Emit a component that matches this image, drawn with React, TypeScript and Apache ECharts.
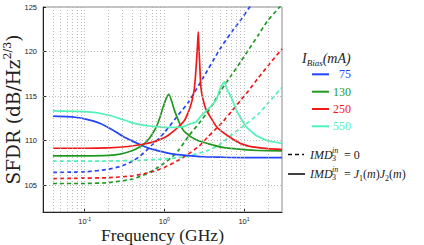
import React, { useEffect, useRef } from "react";
import * as echarts from "echarts";

// ---------- data ----------
const xMin = 0.03;
const xMax = 30;
const yMin = 102;
const yMax = 125;
const yTickValues = [105, 110, 115, 120, 125];
const xGridValues = [
  0.04, 0.05, 0.06, 0.07, 0.08, 0.09, 0.1, 0.2, 0.3, 0.4, 0.5, 0.6, 0.7, 0.8, 0.9,
  1, 2, 3, 4, 5, 6, 7, 8, 9, 10, 20,
];
const biasLabels = ["75", "130", "250", "550"];
const biasColors = ["#2244ff", "#1f9a1f", "#f21818", "#4ef3b6"];

// solid: IMD3in = J1(m)J2(m)
const f75Solid = [0.04, 0.06, 0.08, 0.1, 0.13, 0.16, 0.2, 0.25, 0.3, 0.4, 0.5, 0.7, 0.9, 1.2, 1.6, 2.2, 3, 5, 10, 30];
const v75Solid = [112.75, 112.7, 112.6, 112.45, 112.2, 111.9, 111.45, 110.95, 110.5, 109.95, 109.55, 109.05, 108.8, 108.55, 108.4, 108.3, 108.2, 108.15, 108.1, 108.1];

const f130Solid = [0.04, 0.1, 0.2, 0.28, 0.4, 0.5, 0.6, 0.7, 0.8, 0.88, 0.96, 1.05, 1.14, 1.24, 1.34, 1.45, 1.6, 1.8, 2.5, 3.6, 5.4, 10, 15, 30];
const v130Solid = [108.3, 108.3, 108.35, 108.5, 108.9, 109.35, 109.9, 110.7, 111.6, 112.6, 113.7, 114.7, 115.2, 114.4, 113.4, 112.6, 111.7, 111.0, 110.1, 109.65, 109.25, 109.0, 108.9, 108.85];

const f250Solid = [0.04, 0.1, 0.2, 0.35, 0.54, 0.75, 1.05, 1.4, 1.77, 2.0, 2.2, 2.35, 2.45, 2.55, 2.62, 2.67, 2.72, 2.8, 2.88, 3.0, 3.3, 3.7, 4.5, 5.5, 6.9, 9, 11.4, 20, 30];
const v250Solid = [109.15, 109.15, 109.2, 109.35, 109.6, 109.9, 110.45, 111.3, 112.2, 113.2, 114.3, 115.5, 117.0, 119.3, 121.0, 122.2, 120.5, 118.0, 116.0, 115.0, 113.6, 112.8, 111.6, 110.9, 110.3, 109.7, 109.4, 109.1, 109.0];

const f550Solid = [0.04, 0.08, 0.12, 0.16, 0.2, 0.25, 0.32, 0.4, 0.5, 0.65, 0.85, 1.05, 1.4, 1.77, 2.05, 2.5, 2.9, 3.5, 4.0, 4.5, 5.1, 5.65, 6.1, 6.9, 7.9, 9, 10.6, 12.5, 14.8, 20, 30];
const v550Solid = [113.35, 113.3, 113.2, 113.05, 112.85, 112.6, 112.3, 112.0, 111.8, 111.65, 111.55, 111.5, 111.5, 111.6, 111.85, 112.1, 112.8, 113.5, 114.0, 114.6, 116.0, 116.6, 115.8, 114.9, 113.6, 112.6, 111.6, 111.0, 110.5, 110.0, 109.7];

// dashed: IMD3in = 0
const f75Dashed = [0.04, 0.1, 0.2, 0.3, 0.4, 0.5, 0.7, 1.0, 1.5, 2.0, 3.0, 5.0, 7.0, 9.0, 12, 14];
const v75Dashed = [106.45, 106.5, 106.8, 107.2, 107.7, 108.3, 109.5, 110.9, 112.9, 114.3, 116.9, 120.3, 122.2, 123.5, 125.1, 126];

const f130Dashed = [0.04, 0.1, 0.2, 0.4, 0.6, 0.8, 1.0, 1.26, 1.5, 2.05, 2.7, 3.3, 4.0, 5.1, 6.9, 9, 11.4, 15, 19.6, 28, 32];
const v130Dashed = [105.2, 105.2, 105.3, 105.7, 106.3, 106.9, 107.5, 108.2, 108.9, 110.6, 111.9, 112.9, 114.0, 115.6, 117.3, 118.8, 120.2, 121.8, 123.4, 125.0, 125.6];

const f250Dashed = [0.04, 0.1, 0.2, 0.4, 0.7, 1.0, 1.5, 2.0, 2.74, 3.5, 4.3, 5.4, 7, 9, 11.4, 15, 20, 30];
const v250Dashed = [105.75, 105.8, 105.85, 106.05, 106.5, 107.0, 107.8, 108.5, 109.4, 110.4, 111.2, 112.1, 113.3, 114.5, 115.6, 117.0, 118.4, 120.3];

const f550Dashed = [0.04, 0.2, 0.5, 1, 1.5, 2, 2.74, 3.66, 5, 7.1, 10, 14.8, 20, 30];
const v550Dashed = [107.7, 107.72, 107.8, 107.95, 108.1, 108.3, 108.6, 108.95, 109.6, 110.7, 111.7, 112.9, 114.2, 116.0];

const solidSets = [
  [f75Solid, v75Solid],
  [f130Solid, v130Solid],
  [f250Solid, v250Solid],
  [f550Solid, v550Solid],
];
const dashedSets = [
  [f75Dashed, v75Dashed],
  [f130Dashed, v130Dashed],
  [f250Dashed, v250Dashed],
  [f550Dashed, v550Dashed],
];

const SERIF = "'Liberation Serif', 'Times New Roman', serif";
const WIDE_SERIF = "'DejaVu Serif', serif";
const SANS = "'Liberation Sans', Arial, sans-serif";

function pairs(f: number[], v: number[]) {
  return f.map((x, i) => [x, v[i]]);
}

export default function App() {
  const ref = useRef<HTMLDivElement>(null);

  useEffect(() => {
    if (!ref.current) return;
    const chart = echarts.init(ref.current, null, { renderer: "svg" });

    const gridLineStyle = { type: [1, 2], color: "#a8a8a8", width: 0.8 };

    const series: any[] = [
      {
        type: "line",
        name: "grid",
        data: [[xMin, yMin]],
        symbol: "none",
        lineStyle: { opacity: 0 },
        silent: true,
        z: 1,
        markLine: {
          silent: true,
          symbol: "none",
          label: { show: false },
          lineStyle: gridLineStyle,
          animation: false,
          data: [
            ...xGridValues.map((v) => ({ xAxis: v })),
            ...yTickValues.filter((v) => v < yMax).map((v) => ({ yAxis: v })),
          ],
        },
      },
    ];

    dashedSets.forEach(([f, v], i) => {
      series.push({
        type: "line",
        name: biasLabels[i] + " dashed",
        data: pairs(f, v),
        symbol: "none",
        smooth: 0.2,
        clip: true,
        silent: true,
        z: 3,
        lineStyle: { color: biasColors[i], width: 1.7, type: [4, 3] },
      });
    });
    solidSets.forEach(([f, v], i) => {
      series.push({
        type: "line",
        name: biasLabels[i],
        data: pairs(f, v),
        symbol: "none",
        smooth: 0.2,
        clip: true,
        silent: true,
        z: 4,
        lineStyle: { color: biasColors[i], width: 1.7 },
      });
    });

    const legendRows = [74.3, 91.7, 109, 126.3];
    const graphic: any[] = [
      {
        type: "text",
        x: 302,
        y: 58,
        style: {
          text: "{i|I}{b|Bias}{i|(mA)}",
          verticalAlign: "middle",
          rich: {
            i: { fontFamily: SERIF, fontStyle: "italic", fontSize: 14, lineHeight: 18, fill: "#222", verticalAlign: "middle" },
            b: { fontFamily: SERIF, fontStyle: "italic", fontSize: 9, lineHeight: 10, fill: "#222", verticalAlign: "bottom" },
          },
        },
      },
    ];
    legendRows.forEach((y, i) => {
      graphic.push({
        type: "line",
        shape: { x1: 312, y1: y, x2: 329, y2: y },
        style: { stroke: biasColors[i], lineWidth: 2 },
      });
      graphic.push({
        type: "text",
        x: 351,
        y: y,
        style: {
          text: biasLabels[i],
          align: "right",
          verticalAlign: "middle",
          fontFamily: SERIF,
          fontSize: 12,
          fill: biasColors[i],
        },
      });
    });
    // line-style legend
    graphic.push({
      type: "line",
      shape: { x1: 288, y1: 154.5, x2: 304, y2: 154.5 },
      style: { stroke: "#111", lineWidth: 1.6, lineDash: [4, 3] },
    });
    graphic.push({
      type: "line",
      shape: { x1: 288, y1: 174, x2: 305, y2: 174 },
      style: { stroke: "#111", lineWidth: 1.6 },
    });
    const imdRows: [number, string][] = [
      [154.5, "{e|= 0}"],
      [174, "{e|= }{i|J}{s|1}{e|(}{i|m}{e|)}{i|J}{s|2}{e|(}{i|m}{e|)}"],
    ];
    imdRows.forEach(([y, rest]) => {
      graphic.push({
        type: "text",
        x: 310,
        y: y,
        style: {
          text: "IMD",
          verticalAlign: "middle",
          fontFamily: SERIF,
          fontStyle: "italic",
          fontSize: 12,
          fill: "#222",
        },
      });
      graphic.push({
        type: "text",
        x: 332,
        y: y - 4.5,
        style: { text: "in", verticalAlign: "middle", fontFamily: SERIF, fontStyle: "italic", fontSize: 8, fill: "#222" },
      });
      graphic.push({
        type: "text",
        x: 332,
        y: y + 3.5,
        style: { text: "3", verticalAlign: "middle", fontFamily: SERIF, fontSize: 8, fill: "#222" },
      });
      graphic.push({
        type: "text",
        x: 344,
        y: y,
        style: {
          text: rest,
          verticalAlign: "middle",
          rich: {
            e: { fontFamily: SERIF, fontSize: 12, lineHeight: 16, fill: "#222", verticalAlign: "middle" },
            i: { fontFamily: SERIF, fontStyle: "italic", fontSize: 12, lineHeight: 16, fill: "#222", verticalAlign: "middle" },
            s: { fontFamily: SERIF, fontSize: 8, lineHeight: 9, fill: "#222", verticalAlign: "bottom" },
          },
        },
      });
    });

    chart.setOption({
      animation: false,
      backgroundColor: "#ffffff",
      grid: {
        left: 43,
        top: 7,
        width: 239,
        height: 205,
        containLabel: false,
        outerBoundsMode: "none",
        show: true,
        borderColor: "#8a8a8a",
        borderWidth: 1,
      },
      xAxis: {
        type: "log",
        logBase: 10,
        min: xMin,
        max: xMax,
        name: "Frequency (GHz)",
        nameLocation: "middle",
        nameMoveOverlap: false,
        nameGap: 13.5,
        nameTextStyle: { fontFamily: SERIF, fontSize: 17.5, lineHeight: 19, color: "#222" },
        axisLine: { show: true, lineStyle: { color: "#222", width: 1 } },
        axisTick: { show: true, inside: true, length: 3, lineStyle: { color: "#222" } },
        splitLine: { show: false },
        minorTick: { show: false },
        axisLabel: {
          showMinLabel: false,
          showMaxLabel: false,
          margin: 4,
          formatter: (val: number) => `{b|10}{s|${Math.round(Math.log10(val))}}`,
          rich: {
            b: { fontFamily: SANS, fontSize: 7.5, lineHeight: 9, color: "#222", verticalAlign: "bottom" },
            s: { fontFamily: SANS, fontSize: 5, lineHeight: 5, color: "#222", verticalAlign: "top" },
          },
        },
      },
      yAxis: {
        type: "value",
        min: yMin,
        max: yMax,
        name: "{a|SFDR (dB/Hz}{s|2/3}{a|)}",
        nameLocation: "middle",
        nameMoveOverlap: false,
        nameRotate: 90,
        nameGap: 19,
        nameTextStyle: {
          rich: {
            a: { fontFamily: WIDE_SERIF, fontSize: 18.5, lineHeight: 22, color: "#222", verticalAlign: "middle" },
            s: { fontFamily: WIDE_SERIF, fontSize: 11, lineHeight: 11, color: "#222", verticalAlign: "top" },
          },
        },
        axisLine: { show: true, lineStyle: { color: "#222", width: 1 } },
        axisTick: { show: true, inside: true, length: 3, customValues: yTickValues, lineStyle: { color: "#222" } },
        splitLine: { show: false },
        axisLabel: {
          customValues: yTickValues,
          fontFamily: SANS,
          fontSize: 7.5,
          color: "#222",
          margin: 6,
        },
      },
      series,
      graphic,
    });

    return () => chart.dispose();
  }, []);

  return (
    <div
      ref={ref}
      style={{ position: "fixed", left: 0, top: 0, width: 424, height: 245, background: "#fff" }}
    />
  );
}
